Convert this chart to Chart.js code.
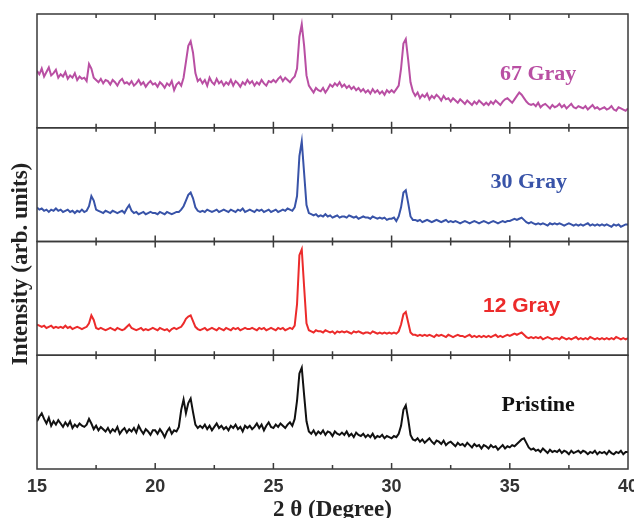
<!DOCTYPE html>
<html>
<head>
<meta charset="utf-8">
<script src="https://cdn.jsdelivr.net/npm/chart.js@4.4.1/dist/chart.umd.min.js"></script>
<style>
  html, body { margin: 0; padding: 0; background: #fff; }
  canvas { display: block; }
</style>
</head>
<body>
<canvas id="xrdChart" width="634" height="518"></canvas>
<script>
// 2θ grid of the scans: 15° to 40° every 0.1°
const twoTheta = Array.from({ length: 251 }, (_, i) => (150 + i) / 10);

const sampleNames = ['67 Gray', '30 Gray', '12 Gray', 'Pristine'];
const xTicks = [15, 20, 25, 30, 35, 40];

// intensities (arb. units), one row per degree, 15.0 .. 15.9 etc
const gray67 = [
  50,47,52,45,49,53,46,48,51,44,
  47,45,49,43,46,44,48,42,45,43,
  44,41,56,52,44,42,40,43,39,42,
  41,38,42,40,37,41,43,39,40,38,
  41,37,39,42,38,40,36,39,41,38,
  39,36,40,38,35,39,37,41,33,38,
  40,37,44,58,72,76,66,48,41,43,
  39,42,37,44,40,38,43,39,41,37,
  40,38,42,37,41,39,36,40,38,42,
  39,41,37,40,38,42,39,37,41,40,
  42,40,43,45,41,44,42,40,43,45,
  52,80,91,72,46,37,34,31,35,33,
  32,35,31,34,38,36,39,37,40,36,
  38,35,37,34,36,33,35,32,34,31,
  33,30,34,31,33,30,32,29,33,31,
  33,31,34,37,52,74,78,60,40,32,
  28,31,26,29,27,30,25,28,26,29,
  27,24,28,25,26,23,26,24,22,25,
  23,21,24,22,20,23,21,24,22,20,
  22,20,23,21,24,22,20,23,25,26,
  24,22,25,28,31,29,26,23,21,20,
  21,19,22,18,20,21,19,17,20,18,
  19,21,18,20,17,19,21,18,17,19,
  18,17,19,16,18,20,17,18,16,17,
  18,16,17,19,16,15,18,17,16,15,
  17
];
const gray30 = [
  30,28,29,27,28,26,28,27,29,27,
  28,26,27,28,26,27,25,27,26,28,
  26,27,31,40,36,28,27,26,25,27,
  26,25,27,26,25,26,27,25,29,32,
  27,25,26,24,25,26,24,25,26,25,
  25,24,26,25,24,26,25,24,25,26,
  26,28,31,36,41,43,38,30,27,26,
  27,26,28,27,26,27,28,26,27,28,
  27,26,28,27,26,28,27,29,26,27,
  28,27,26,28,27,28,26,27,28,26,
  27,28,26,27,28,27,29,28,27,30,
  40,75,88,60,32,25,24,23,24,22,
  23,22,24,22,23,21,22,23,21,22,
  22,21,23,22,21,22,20,21,22,21,
  21,20,22,21,20,21,20,21,19,20,
  20,21,18,22,30,43,45,34,22,19,
  19,18,19,17,18,19,18,17,18,19,
  18,17,18,19,17,18,17,18,17,16,
  17,18,17,16,17,18,17,16,17,18,
  17,16,17,18,17,16,17,18,17,18,
  18,19,20,19,20,21,19,17,16,17,
  16,15,16,15,16,15,14,16,15,16,
  15,16,15,14,15,16,15,14,15,14,
  15,14,15,16,14,15,14,15,14,15,
  14,15,14,13,15,14,15,13,14,15,
  15
];
const gray12 = [
  27,26,25,26,24,25,26,24,25,24,
  25,24,26,24,25,23,24,25,24,23,
  24,25,28,35,31,24,23,24,23,22,
  23,24,23,22,24,23,22,23,25,27,
  24,23,22,23,24,22,23,22,23,24,
  23,22,24,23,22,23,21,23,24,23,
  24,25,28,32,34,35,30,25,23,22,
  23,24,22,23,24,23,22,24,23,22,
  24,23,22,24,23,24,22,23,24,23,
  23,24,23,22,24,23,24,22,23,24,
  23,22,24,23,24,22,23,24,23,26,
  45,88,93,60,28,22,21,20,22,21,
  21,20,22,21,20,21,19,21,20,21,
  20,21,20,19,21,20,21,20,19,20,
  20,19,21,20,19,20,19,20,19,20,
  19,20,19,21,27,36,38,29,20,18,
  18,17,18,17,18,17,18,17,16,18,
  17,18,17,16,18,17,16,17,18,17,
  17,16,17,18,16,17,16,17,16,17,
  16,17,16,17,18,16,17,16,17,18,
  17,18,19,18,19,20,18,16,15,16,
  15,16,15,16,14,15,16,15,14,15,
  15,14,16,15,14,15,14,15,16,14,
  15,14,15,14,16,15,14,15,14,15,
  14,15,14,15,14,16,15,14,15,14,
  15
];
const pristine = [
  42,46,49,44,40,45,38,42,39,43,
  40,37,41,38,42,36,39,37,40,38,
  37,39,44,40,35,38,34,37,35,33,
  36,32,35,33,37,31,34,36,32,35,
  33,36,32,38,34,31,35,33,30,34,
  34,31,35,32,28,33,36,31,34,33,
  37,52,61,49,58,62,50,39,36,38,
  36,39,35,38,34,37,40,36,38,35,
  37,34,38,36,39,35,37,33,38,36,
  38,35,37,40,36,39,34,38,41,37,
  36,39,37,40,38,36,39,41,38,44,
  60,84,89,65,42,33,31,34,30,33,
  31,34,30,33,32,29,33,31,30,32,
  30,33,29,31,28,32,30,29,31,28,
  30,28,31,27,29,28,30,27,29,28,
  27,29,28,31,38,52,56,44,30,26,
  25,27,24,26,23,25,27,24,22,25,
  24,22,25,21,23,24,22,20,23,21,
  22,20,23,21,19,22,20,21,18,21,
  20,18,21,19,20,17,19,21,18,20,
  19,21,20,22,24,26,27,23,19,17,
  18,16,17,15,18,16,14,17,15,16,
  15,17,14,16,15,13,16,14,15,16,
  14,16,15,13,15,14,16,13,15,14,
  15,13,16,14,13,15,14,16,13,15,
  15
];

const seriesValues = [gray67, gray30, gray12, pristine];
const lineColors = ['#b94fa3', '#3853a8', '#ec2b2b', '#111111'];
const panelIds = ['p67', 'p30', 'p12', 'p0'];
// where each sample name sits: [2θ, intensity] on its own panel
const labelAnchors = [[36.2, 42], [35.8, 47], [35.5, 38], [36.2, 51]];
const labelFonts = [
  'bold 22px "Liberation Serif"',
  'bold 22px "Liberation Serif"',
  'bold 21px "Liberation Sans"',
  'bold 22px "Liberation Serif"'
];

const datasets = seriesValues.map((vals, k) => ({
  label: sampleNames[k],
  data: vals.map((v, i) => ({ x: twoTheta[i], y: v })),
  yAxisID: panelIds[k],
  borderColor: lineColors[k],
  borderWidth: 2,
  pointRadius: 0,
  tension: 0,
  fill: false
}));

const scales = {
  x: {
    type: 'linear',
    min: 15,
    max: 40,
    grid: { display: false, drawTicks: false },
    border: { display: false },
    ticks: {
      stepSize: 2.5,
      autoSkip: false,
      maxRotation: 0,
      padding: 7,
      color: '#333',
      font: { family: 'Liberation Sans', size: 18, weight: 'bold' },
      callback: v => xTicks.includes(v) ? String(v) : ''
    },
    title: {
      display: true,
      text: '2 θ (Degree)',
      color: '#222',
      font: { family: 'Liberation Serif', size: 23, weight: 'bold' },
      padding: { top: 0, bottom: -6 }
    },
    afterFit(scale) {
      scale.height = 49;
      scale.paddingLeft = 0;
      scale.paddingRight = 0;
    }
  }
};
panelIds.forEach((id, k) => {
  scales[id] = {
    type: 'linear',
    position: 'left',
    stack: 'xrd',
    stackWeight: 1,
    weight: 4 - k,
    min: 0,
    max: 100,
    display: false
  };
});

const panelFrame = {
  id: 'panelFrame',
  afterDatasetsDraw(chart) {
    const ctx = chart.ctx;
    const x = chart.scales.x;
    ctx.save();
    ctx.strokeStyle = '#3a3a3a';
    ctx.lineWidth = 1.5;
    panelIds.forEach(id => {
      const y = chart.scales[id];
      ctx.strokeRect(x.left, y.top, x.right - x.left, y.bottom - y.top);
      x.ticks.forEach(t => {
        if (t.value <= x.min || t.value >= x.max) return;
        const px = x.getPixelForValue(t.value);
        const len = t.value % 5 === 0 ? 6 : 4;
        ctx.beginPath();
        ctx.moveTo(px, y.top);
        ctx.lineTo(px, y.top + len);
        ctx.moveTo(px, y.bottom);
        ctx.lineTo(px, y.bottom - len);
        ctx.stroke();
      });
    });

    // sample names
    ctx.textAlign = 'center';
    ctx.textBaseline = 'alphabetic';
    sampleNames.forEach((name, k) => {
      const y = chart.scales[panelIds[k]];
      ctx.fillStyle = lineColors[k];
      ctx.font = labelFonts[k];
      ctx.fillText(name, x.getPixelForValue(labelAnchors[k][0]), y.getPixelForValue(labelAnchors[k][1]));
    });

    // y axis title across all panels
    ctx.fillStyle = '#222';
    ctx.font = 'bold 23px "Liberation Serif"';
    ctx.textBaseline = 'middle';
    ctx.translate(21, 264);
    ctx.rotate(-Math.PI / 2);
    ctx.fillText('Intensity (arb. units)', 0, 0);
    ctx.restore();
  }
};

new Chart(document.getElementById('xrdChart'), {
  type: 'line',
  data: { datasets: datasets },
  options: {
    responsive: false,
    animation: false,
    layout: { padding: { left: 37, right: 6, top: 14, bottom: 0 } },
    plugins: {
      legend: { display: false },
      tooltip: { enabled: false }
    },
    scales: scales
  },
  plugins: [panelFrame]
});
</script>
</body>
</html>
